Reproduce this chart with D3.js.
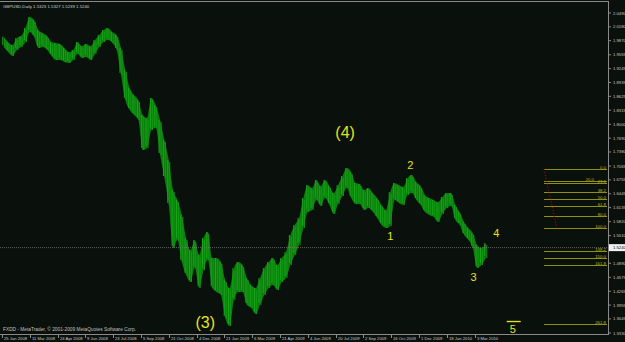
<!DOCTYPE html>
<html>
<head>
<meta charset="utf-8">
<script src="https://cdn.jsdelivr.net/npm/d3@7"></script>
<style>
  html, body { margin: 0; padding: 0; background: #0a100c; }
  svg { display: block; }
</style>
</head>
<body>
<svg id="chart" width="625" height="342"></svg>
<script>
// header quote: open, high, low, close
const symbol = "GBPUSD,Daily";
const quote = [1.5323, 1.5327, 1.5239, 1.5240];

// weekly high / low (week 0 starts 25 Jan 2008)
const weekHigh = [
  1.9960, 1.9841, 1.9774, 1.9931, 1.9975, 2.0154, 2.0400, 2.0333, 2.0110, 2.0043,
  1.9975, 1.9841, 1.9819, 1.9796, 1.9707, 1.9617, 1.9662, 1.9841, 1.9752, 1.9796,
  1.9752, 1.9886, 1.9998, 2.0110, 2.0154, 2.0065, 1.9998, 1.9707, 1.9215, 1.8812,
  1.8655, 1.8543, 1.8208, 1.8141, 1.8588, 1.8431, 1.8096, 1.7648, 1.7201, 1.6529,
  1.6306, 1.5970, 1.5455, 1.5187, 1.5411, 1.5075, 1.5455, 1.5590, 1.5008, 1.5008,
  1.4918, 1.4516, 1.4337, 1.4784, 1.4918, 1.4851, 1.4560, 1.4404, 1.4337, 1.4560,
  1.4784, 1.4918, 1.5008, 1.4851, 1.5008, 1.5142, 1.5522, 1.5746, 1.5903, 1.6350,
  1.6641, 1.6574, 1.6753, 1.6619, 1.6753, 1.6619, 1.6462, 1.6641, 1.6843, 1.7022,
  1.6932, 1.6686, 1.6664, 1.6529, 1.6574, 1.6462, 1.6350, 1.6194, 1.6082, 1.6485,
  1.6686, 1.6641, 1.6597, 1.6798, 1.6865, 1.6709, 1.6619, 1.6417, 1.6350, 1.6306,
  1.6261, 1.6373, 1.6462, 1.6462, 1.6194, 1.6037, 1.5813, 1.5679, 1.5567, 1.5299,
  1.5232, 1.5343
];
const weekLow = [
  1.9730, 1.9617, 1.9530, 1.9662, 1.9729, 1.9841, 2.0065, 1.9953, 1.9707, 1.9729,
  1.9662, 1.9530, 1.9438, 1.9438, 1.9393, 1.9371, 1.9438, 1.9572, 1.9483, 1.9505,
  1.9438, 1.9572, 1.9729, 1.9841, 1.9886, 1.9819, 1.9662, 1.9103, 1.8543, 1.8320,
  1.8208, 1.8096, 1.7424, 1.7469, 1.7872, 1.7917, 1.7313, 1.6798, 1.6194, 1.5232,
  1.5411, 1.4918, 1.4627, 1.4471, 1.4784, 1.4337, 1.4739, 1.4963, 1.4337, 1.4247,
  1.4180, 1.3666, 1.3486, 1.4068, 1.4247, 1.4247, 1.3956, 1.3889, 1.3755, 1.3956,
  1.4180, 1.4337, 1.4404, 1.4292, 1.4471, 1.4560, 1.4851, 1.5075, 1.5299, 1.5679,
  1.6037, 1.6082, 1.6306, 1.6172, 1.6350, 1.6194, 1.5992, 1.6216, 1.6395, 1.6574,
  1.6350, 1.6216, 1.6216, 1.6082, 1.6127, 1.6037, 1.5903, 1.5746, 1.5679, 1.5724,
  1.6306, 1.6238, 1.6194, 1.6417, 1.6462, 1.6306, 1.6194, 1.6037, 1.5970, 1.5925,
  1.5813, 1.5992, 1.6127, 1.6172, 1.5858, 1.5746, 1.5522, 1.5411, 1.5232, 1.4784,
  1.4851, 1.5008
];

// time axis labels, one every 32 bars
const dateLabels = [
  "25 Jan 2008", "11 Mar 2008", "24 Apr 2008", "9 Jun 2008", "23 Jul 2008",
  "5 Sep 2008", "21 Oct 2008", "4 Dec 2008", "21 Jan 2009", "6 Mar 2009",
  "21 Apr 2009", "4 Jun 2009", "20 Jul 2009", "2 Sep 2009", "16 Oct 2009",
  "1 Dec 2009", "18 Jan 2010", "3 Mar 2010"
];
const priceLabels = [
  "2.0490", "2.0180", "1.9870", "1.9555", "1.9245", "1.8935", "1.8625", "1.8315",
  "1.8000", "1.7690", "1.7380", "1.7065", "1.6755", "1.6445", "1.6135", "1.5820",
  "1.5510", "1.5200", "1.4890", "1.4575", "1.4265", "1.3955", "1.3645", "1.3330"
];

// fibonacci object
const fiboLevels = [0, 20, 23.6, 38.2, 50, 61.8, 80, 100, 138.2, 150, 161.8, 261.8];
const fiboPrices = [1.6999, 1.5672];
const fiboBars = [624, 639];

// elliott wave labels: text, bar index, price
const waveText = ["(4)", "(3)", "1", "2", "3", "4", "5"];
const waveBar = [395, 234, 447, 470, 543, 569, 588];
const wavePrice = [1.7827, 1.3576, 1.5500, 1.7089, 1.4583, 1.5567, 1.3419];

const W = 625, H = 342;
const plot = { left: 0, top: 1, right: 608, bottom: 334 };
const barsPerWeek = 5;
const axisFont = "Liberation Sans, Arial, sans-serif";

const svg = d3.select("#chart");
svg.append("rect").attr("width", W).attr("height", H).attr("fill", "#0a100c");

const x = d3.scaleLinear().domain([0, 544]).range([2, 474.5]);
const y = d3.scaleLinear()
  .domain([+priceLabels[priceLabels.length - 1], +priceLabels[0]])
  .range([333, 13]);

const weeks = weekHigh.map((hi, i) => ({ bar: i * barsPerWeek + 2, hi, lo: weekLow[i] }));

// price band
const band = d3.area()
  .x(d => x(d.bar))
  .y0(d => y(d.lo))
  .y1(d => y(d.hi))
  .curve(d3.curveMonotoneX);
svg.append("path").datum(weeks)
  .attr("d", band)
  .attr("fill", "#0b7d0b");

// weekly bars on top for texture
const bars = svg.append("g");
weeks.forEach(d => {
  const cx = x(d.bar);
  bars.append("line")
    .attr("x1", cx - 1).attr("x2", cx - 1)
    .attr("y1", y(d.hi)).attr("y2", y(d.lo) - 2)
    .attr("stroke", "#18a818").attr("stroke-width", 1);
  bars.append("line")
    .attr("x1", cx + 1).attr("x2", cx + 1)
    .attr("y1", y(d.hi) + 2).attr("y2", y(d.lo))
    .attr("stroke", "#13981a").attr("stroke-width", 1);
});

// current price line
const last = quote[3];
svg.append("line")
  .attr("x1", plot.left).attr("x2", plot.right)
  .attr("y1", y(last)).attr("y2", y(last))
  .attr("stroke", "#7a7a7a").attr("stroke-width", 0.8)
  .attr("stroke-dasharray", "1,1");

// fibo levels
const fx1 = x(fiboBars[0]);
const fiboG = svg.append("g");
fiboLevels.forEach(l => {
  const p = fiboPrices[0] - (fiboPrices[0] - fiboPrices[1]) * l / 100;
  const yy = Math.round(y(p)) + 0.5;
  fiboG.append("line")
    .attr("x1", fx1).attr("x2", plot.right - 1)
    .attr("y1", yy).attr("y2", yy)
    .attr("stroke", "#8f8f10").attr("stroke-width", 1);
  fiboG.append("text")
    .attr("x", l === 20 ? plot.right - 14 : plot.right - 2).attr("y", yy - 0.8)
    .attr("text-anchor", "end")
    .attr("font-family", axisFont)
    .attr("font-size", 4.3)
    .attr("fill", "#b8b820")
    .text(l.toFixed(1));
});
svg.append("line")
  .attr("x1", x(fiboBars[0])).attr("y1", y(fiboPrices[0]))
  .attr("x2", x(fiboBars[1])).attr("y2", y(fiboPrices[1]))
  .attr("stroke", "#b01010").attr("stroke-width", 1)
  .attr("stroke-dasharray", "1,2");

// wave labels
waveText.forEach((t, i) => {
  const big = t.length > 1;
  svg.append("text")
    .attr("x", x(waveBar[i])).attr("y", y(wavePrice[i]))
    .attr("text-anchor", "middle")
    .attr("dominant-baseline", "central")
    .attr("font-family", axisFont)
    .attr("font-size", big ? 16 : 11)
    .attr("fill", "#e4e41c")
    .text(t);
});
// bar above the "5"
svg.append("line")
  .attr("x1", x(waveBar[6]) - 6).attr("x2", x(waveBar[6]) + 8)
  .attr("y1", y(wavePrice[6]) - 7.5).attr("y2", y(wavePrice[6]) - 7.5)
  .attr("stroke", "#e4e41c").attr("stroke-width", 1.4);

// frame
svg.append("line").attr("x1", 0).attr("x2", plot.right).attr("y1", 1.5).attr("y2", 1.5)
  .attr("stroke", "#8a8a8a");
svg.append("line").attr("x1", 0).attr("x2", plot.right).attr("y1", plot.bottom + 0.5).attr("y2", plot.bottom + 0.5)
  .attr("stroke", "#8a8a8a");
svg.append("line").attr("x1", plot.right + 0.5).attr("x2", plot.right + 0.5).attr("y1", 1).attr("y2", plot.bottom + 1)
  .attr("stroke", "#8a8a8a");

// price axis (the label under the current price tag is hidden)
priceLabels.forEach(s => {
  const yy = y(+s);
  svg.append("line").attr("x1", plot.right).attr("x2", plot.right + 3)
    .attr("y1", yy).attr("y2", yy).attr("stroke", "#8a8a8a");
  if (Math.abs(yy - y(quote[3])) < 6) return;
  svg.append("text").attr("x", plot.right + 5).attr("y", yy)
    .attr("dominant-baseline", "central")
    .attr("font-family", axisFont).attr("font-size", 4.2).attr("fill", "#c8c8c8")
    .text(s);
});
// current price tag
svg.append("rect").attr("x", plot.right + 1).attr("y", y(last) - 3.5)
  .attr("width", W - plot.right - 1).attr("height", 7).attr("fill", "#f0f0f0");
svg.append("text").attr("x", plot.right + 5).attr("y", y(last))
  .attr("dominant-baseline", "central")
  .attr("font-family", axisFont).attr("font-size", 4.2).attr("fill", "#000")
  .text(last.toFixed(4));

// time axis
dateLabels.forEach((s, i) => {
  const xx = Math.round(x(i * 32)) + 0.5;
  svg.append("line").attr("x1", xx).attr("x2", xx)
    .attr("y1", plot.bottom).attr("y2", plot.bottom + 4).attr("stroke", "#8a8a8a");
  svg.append("text").attr("x", xx + 1.5).attr("y", 339.5)
    .attr("font-family", axisFont).attr("font-size", 4.2).attr("fill", "#c8c8c8")
    .text(s);
});

// header and copyright
svg.append("text").attr("x", 3).attr("y", 7.5)
  .attr("font-family", axisFont).attr("font-size", 4.3).attr("fill", "#d0d0d0")
  .text(symbol + "  " + quote.map(d => d.toFixed(4)).join(" "));
svg.append("text").attr("x", 3).attr("y", 331)
  .attr("font-family", axisFont).attr("font-size", 4.8).attr("fill", "#c0c0c0")
  .text("FXDD - MetaTrader, \u00a9 2001-2009 MetaQuotes Software Corp.");
</script>
</body>
</html>
